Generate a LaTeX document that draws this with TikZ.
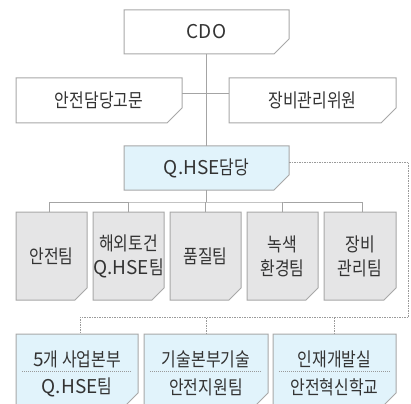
\documentclass[tikz,border=0pt]{standalone}
\usepackage{fontspec}
\setmainfont{Noto Sans CJK KR}
\newfontfamily\hf{Noto Sans CJK KR}[FakeStretch=0.84]
\usetikzlibrary{backgrounds}
\definecolor{bd}{HTML}{A8A8A8}
\definecolor{ln}{HTML}{A4A4A4}
\definecolor{dl}{HTML}{9A9A9A}
\definecolor{txt}{HTML}{333333}
\definecolor{blu}{HTML}{E1F3FB}
\definecolor{gry}{HTML}{E5E5E6}
\newcommand\cutfill[3]{\filldraw[fill=#2, draw=bd, line width=1pt] (#1.north west) -- (#1.north east) -- ([yshift=#3]#1.south east) -- ([xshift=-#3]#1.south east) -- (#1.south west) -- cycle;}
\tikzset{
  obox/.style={rectangle, inner sep=0pt, outer sep=0pt, text=txt, align=center, font=\fontsize{19}{24}\selectfont},
  conn/.style={draw=ln, line width=1pt},
  dsh/.style={draw=dl, line width=0.8pt, dash pattern=on 1.5pt off 1pt},
  divl/.style={draw=dl, line width=0.8pt, dash pattern=on 1pt off 1pt}
}
\begin{document}
\begin{tikzpicture}[x=1pt,y=-1pt]
\useasboundingbox (0,0) rectangle (411,403);
% nodes
\node[obox, minimum width=165pt, minimum height=44pt] (cdo) at (206.5,32) {CDO};
\node[obox, minimum width=166pt, minimum height=45pt] (adv) at (99,100.5) {\hf 안전담당고문};
\node[obox, minimum width=167pt, minimum height=45pt] (equ) at (312.5,100.5) {\hf 장비관리위원};
\node[obox, minimum width=165pt, minimum height=44pt] (qhse) at (206.5,168) {Q.HSE{\hf 담당}};
\node[obox, minimum width=71pt, minimum height=88pt] (t1) at (51.5,256) {\hf 안전팀};
\node[obox, minimum width=71pt, minimum height=88pt] (t2) at (128.5,256) {{\hf 해외토건}\\Q.HSE{\hf 팀}};
\node[obox, minimum width=71pt, minimum height=88pt] (t3) at (205.5,256) {\hf 품질팀};
\node[obox, minimum width=71pt, minimum height=88pt] (t4) at (282.5,256) {{\hf 녹색}\\{\hf 환경팀}};
\node[obox, minimum width=72pt, minimum height=88pt] (t5) at (360,256) {{\hf 장비}\\{\hf 관리팀}};
\node[obox, minimum width=122pt, minimum height=71pt] (b1) at (77,369.5) {};
\node[obox, minimum width=124pt, minimum height=71pt] (b2) at (206,369.5) {};
\node[obox, minimum width=123pt, minimum height=71pt] (b3) at (334.5,369.5) {};
\node[obox] (b1t) at (77,359) {5{\hf 개 사업본부}};
\node[obox] (b1u) at (77,387) {Q.HSE{\hf 팀}};
\node[obox] (b2t) at (206,359) {\hf 기술본부기술};
\node[obox] (b2u) at (206,387) {\hf 안전지원팀};
\node[obox] (b3t) at (334.5,359) {\hf 인재개발실};
\node[obox] (b3u) at (334.5,387) {\hf 안전혁신학교};
% shapes
\begin{scope}[on background layer]
\fill[white] (0,0) rectangle (411,403);
\cutfill{cdo}{white}{15pt}
\cutfill{adv}{white}{15pt}
\cutfill{equ}{white}{15pt}
\cutfill{qhse}{blu}{15pt}
\cutfill{t1}{gry}{12pt}
\cutfill{t2}{gry}{12pt}
\cutfill{t3}{gry}{12pt}
\cutfill{t4}{gry}{12pt}
\cutfill{t5}{gry}{12pt}
\cutfill{b1}{blu}{12pt}
\cutfill{b2}{blu}{12pt}
\cutfill{b3}{blu}{12pt}
\end{scope}
% connectors
\draw[conn] (cdo.south) -- (qhse.north);
\draw[conn] ([yshift=6.5pt]adv.east) -- ([yshift=6.5pt]equ.west);
\coordinate (bus) at (206.5,202);
\draw[conn] (qhse.south) -- (bus);
\draw[conn] ([xshift=-2.5pt]t1.north) |- (bus) -| ([xshift=2pt]t5.north);
\draw[conn] (t2.north) -- (t2.north |- bus);
\draw[conn] (t3.north) -- (t3.north |- bus);
\draw[conn] (t4.north) -- (t4.north |- bus);
\coordinate (dc) at (408.5,317);
\draw[dsh] ([yshift=6pt]qhse.east) -| (dc) -| ([xshift=3pt]b1.north);
\draw[dsh] (b2.north) -- (b2.north |- dc);
\draw[dsh] (b3.north) -- (b3.north |- dc);
% dividers
\draw[divl] ([xshift=6pt,yshift=-1.5pt]b1.west) -- ([xshift=-6pt,yshift=-1.5pt]b1.east);
\draw[divl] ([xshift=6pt,yshift=-1.5pt]b2.west) -- ([xshift=-6pt,yshift=-1.5pt]b2.east);
\draw[divl] ([xshift=6pt,yshift=-1.5pt]b3.west) -- ([xshift=-6pt,yshift=-1.5pt]b3.east);
\end{tikzpicture}
\end{document}
